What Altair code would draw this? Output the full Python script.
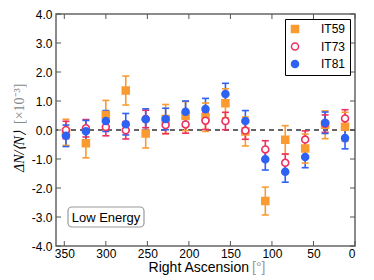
import altair as alt
import pandas as pd

ra = [348, 324, 300, 276, 252, 228, 204, 180, 156, 132, 108, 84, 60, 36, 12]
it59 = [-0.08, -0.46, 0.52, 1.36, -0.12, 0.38, 0.48, 0.44, 0.92, -0.05, -2.45, -0.34, -0.64, 0.18, 0.11]
it59_err = [0.45, 0.5, 0.5, 0.5, 0.5, 0.5, 0.5, 0.49, 0.5, 0.5, 0.48, 0.49, 0.5, 0.48, 0.5]
it73 = [0.0, 0.06, 0.1, -0.01, 0.38, 0.17, 0.19, 0.32, 0.31, -0.02, -0.67, -1.13, -0.33, 0.22, 0.4]
it73_err = [0.3, 0.3, 0.3, 0.3, 0.3, 0.3, 0.3, 0.3, 0.3, 0.3, 0.3, 0.3, 0.3, 0.3, 0.3]
it81 = [-0.2, -0.04, 0.31, 0.2, 0.37, 0.38, 0.63, 0.72, 1.24, 0.31, -1.01, -1.44, -0.93, 0.25, -0.28]
it81_err = [0.37, 0.37, 0.36, 0.37, 0.36, 0.37, 0.37, 0.37, 0.37, 0.36, 0.37, 0.36, 0.37, 0.37, 0.37]

series = ["IT59", "IT73", "IT81"]
colors = ["#F99B31", "#EE3060", "#2E62F2"]
fills = ["#F99B31", "white", "#2E62F2"]
shapes = ["square", "circle", "circle"]

x_ticks = [350, 300, 250, 200, 150, 100, 50, 0]
y_ticks = [-4, -3, -2, -1, 0, 1, 2, 3, 4]

rows = []
for k, (name, vals, errs) in enumerate(zip(series, [it59, it73, it81], [it59_err, it73_err, it81_err])):
    for r, v, e in zip(ra, vals, errs):
        rows.append({"ra": r, "val": v, "lo": v - e, "hi": v + e, "series": name,
                     "bar_series": name, "ord": k})
df = pd.DataFrame(rows)

FONT = "Liberation Sans"
xscale = alt.Scale(domain=[0, 360], reverse=True, nice=False, zero=False)
yscale = alt.Scale(domain=[-4, 4], nice=False, zero=False)
xaxis = alt.Axis(values=x_ticks, format="d", grid=False, ticks=False, tickSize=0, domain=False,
                 labelFontSize=12, labelFont=FONT, labelColor="black", labelPadding=2, title=None)
yaxis = alt.Axis(values=y_ticks, grid=False, ticks=False, tickSize=0, domain=False,
                 labelExpr="replace(format(datum.value, '.1f'), '\u2212', '-')",
                 labelFontSize=12, labelFont=FONT, labelColor="black", labelPadding=4, title=None)

X = lambda f: alt.X(f, type="quantitative", scale=xscale, axis=xaxis, title=None)
Y = lambda f: alt.Y(f, type="quantitative", scale=yscale, axis=yaxis, title=None)

legend = alt.Legend(title=None, orient="top-right", offset=5, strokeColor="black",
                    fillColor="white", padding=4, labelFontSize=12, labelFont=FONT,
                    labelColor="black", symbolSize=50, symbolStrokeWidth=1.5,
                    rowPadding=3.5, labelOffset=20)

base = alt.Chart(df)

zero = alt.Chart(alt.Data(values=[{"z": 0}])).mark_rule(
    strokeDash=[5, 4], color="#333333", strokeWidth=1.5
).encode(y=Y("z"))

# error bar colours use a data-derived domain (sorted: IT59, IT73, IT81)
stroke_enc = alt.Stroke("bar_series:N", scale=alt.Scale(range=colors), legend=None)
bars = base.mark_rule(strokeWidth=1.6).encode(
    x=X("ra"), y=Y("lo"), y2="hi", stroke=stroke_enc, order="ord:Q",
)
caps_lo = base.mark_rule(strokeWidth=1.6, xOffset=-3.5, x2Offset=3.5).encode(
    x=X("ra"), x2="ra", y=Y("lo"), stroke=stroke_enc, order="ord:Q"
)
caps_hi = base.mark_rule(strokeWidth=1.6, xOffset=-3.5, x2Offset=3.5).encode(
    x=X("ra"), x2="ra", y=Y("hi"), stroke=stroke_enc, order="ord:Q"
)
points = base.mark_point(strokeWidth=1.6, size=48, opacity=1).encode(
    x=X("ra"), y=Y("val"),
    color=alt.Color("series:N", scale=alt.Scale(domain=series, range=colors), legend=legend),
    fill=alt.Fill("series:N", scale=alt.Scale(domain=series, range=fills), legend=legend),
    shape=alt.Shape("series:N", scale=alt.Scale(domain=series, range=shapes), legend=legend),
    order="ord:Q",
)

xt = alt.Chart(pd.DataFrame({"v": x_ticks}))
yt = alt.Chart(pd.DataFrame({"v": y_ticks}))
tick_col = "#555555"
xt_top = xt.mark_rule(color=tick_col, strokeWidth=1).encode(x=X("v"), y=alt.value(0), y2=alt.value(5))
xt_bot = xt.mark_rule(color=tick_col, strokeWidth=1).encode(x=X("v"), y=alt.value(232), y2=alt.value(227))
yt_l = yt.mark_rule(color=tick_col, strokeWidth=1).encode(y=Y("v"), x=alt.value(0), x2=alt.value(5))
yt_r = yt.mark_rule(color=tick_col, strokeWidth=1).encode(y=Y("v"), x=alt.value(299), x2=alt.value(294))

one = alt.Data(values=[{"a": 1}])
box = alt.Chart(one).mark_rect(cornerRadius=4, fill="white", stroke="#999999", strokeWidth=1.2).encode(
    x=alt.value(12), x2=alt.value(88), y=alt.value(193), y2=alt.value(213)
)
box_txt = alt.Chart(one).mark_text(text="Low Energy", font=FONT, fontSize=13, color="black",
                                   align="center", baseline="middle").encode(
    x=alt.value(50), y=alt.value(203.5)
)
xt1 = alt.Chart(one).mark_text(text="Right Ascension", font=FONT, fontSize=14, color="black",
                               align="right", baseline="middle").encode(x=alt.value(193), y=alt.value(254))
xt2 = alt.Chart(one).mark_text(text="[\u00b0]", font=FONT, fontSize=14, color="#999999",
                               align="left", baseline="middle").encode(x=alt.value(196), y=alt.value(254))
yt1 = alt.Chart(one).mark_text(text="\u0394N/\u27e8N\u27e9", font="Liberation Serif", fontSize=14,
                               fontStyle="italic", color="black", angle=270,
                               align="left", baseline="middle").encode(x=alt.value(-36), y=alt.value(158))
yt2 = alt.Chart(one).mark_text(text="[\u00d710\u207b\u00b3]", font="Liberation Serif", fontSize=14,
                               color="#888888", angle=270,
                               align="left", baseline="middle").encode(x=alt.value(-36), y=alt.value(110))

chart = alt.layer(
    zero, bars, caps_lo, caps_hi, points, xt_top, xt_bot, yt_l, yt_r, box, box_txt, xt1, xt2, yt1, yt2
).properties(
    width=299, height=232,
    padding={"left": 48, "top": 6, "right": 11, "bottom": 34},
    autosize=alt.AutoSizeParams(type="none"),
    background="white",
).configure_view(
    stroke="#666666", strokeWidth=1.5
)

chart.save("out.html", embed_options={"renderer": "svg", "actions": False})
